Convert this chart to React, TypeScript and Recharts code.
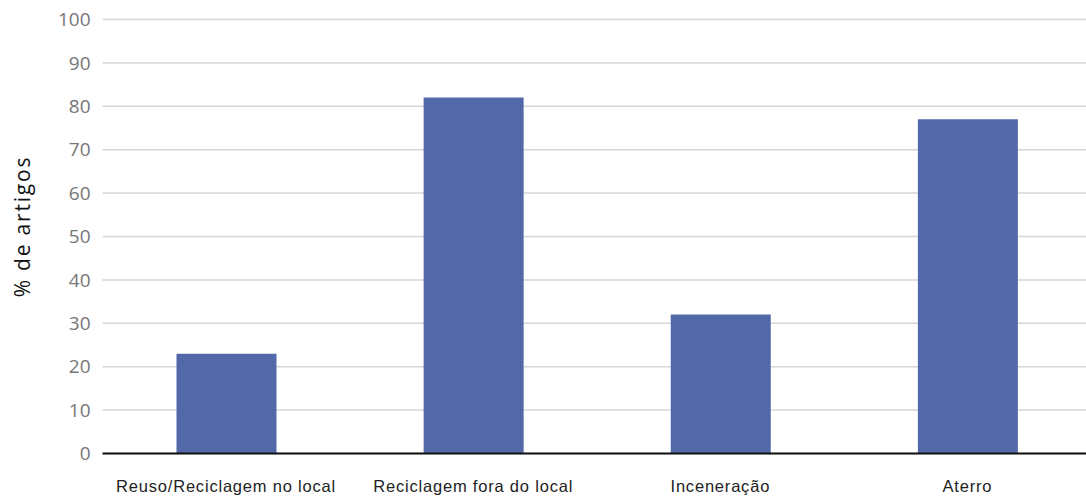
import { BarChart, Bar, XAxis, YAxis, CartesianGrid } from 'recharts';

const categories = [
  'Reuso/Reciclagem no local',
  'Reciclagem fora do local',
  'Inceneração',
  'Aterro',
];
const percentArtigos = [23, 82, 32, 77];
const yTicks = [0, 10, 20, 30, 40, 50, 60, 70, 80, 90, 100];

const data = categories.map((name, i) => ({ name, value: percentArtigos[i] }));

export default function App() {
  return (
    <div
      style={{
        position: 'absolute',
        left: 0,
        top: 0,
        width: 1086,
        height: 499,
        overflow: 'hidden',
        background: '#ffffff',
      }}
    >
      <BarChart
        width={1091}
        height={499}
        data={data}
        margin={{ top: 19.5, right: 0, bottom: 0, left: 0 }}
      >
        <CartesianGrid vertical={false} stroke="#d6d6d6" strokeWidth={1.5} />
        <XAxis
          dataKey="name"
          height={45.5}
          tickSize={0}
          tickMargin={27}
          axisLine={{ stroke: '#111111', strokeWidth: 2 }}
          tickLine={false}
          interval={0}
          tick={{
            fill: '#222222',
            fontSize: 16.5,
            fontFamily: '"Liberation Sans", Arial, sans-serif',
            letterSpacing: 0.8,
          }}
        />
        <YAxis
          width={102.5}
          domain={[0, 100]}
          ticks={yTicks}
          tickSize={0}
          tickMargin={12}
          axisLine={false}
          tickLine={false}
          tick={{
            fill: '#767676',
            fontSize: 19,
            fontFamily: '"Open Sans", sans-serif',
          }}
          label={{
            value: '% de artigos',
            angle: -90,
            position: 'center',
            dx: -29,
            dy: -10,
            fill: '#111111',
            fontSize: 21,
            fontFamily: '"Open Sans", sans-serif',
            letterSpacing: 1.8,
          }}
        />
        <Bar dataKey="value" fill="#5368a9" barSize={100} isAnimationActive={false} />
      </BarChart>
    </div>
  );
}
